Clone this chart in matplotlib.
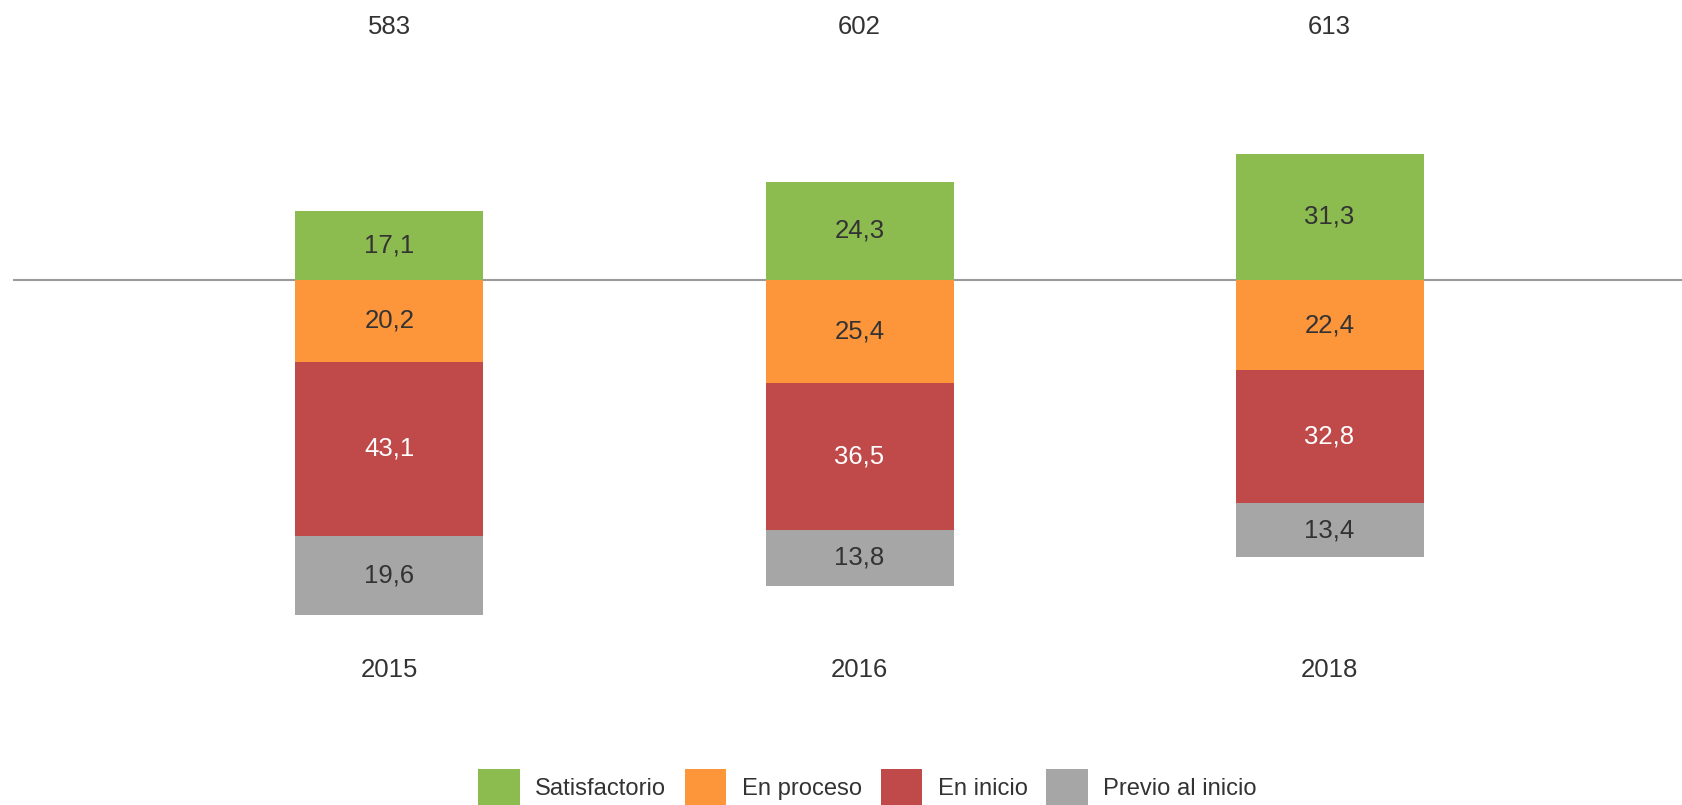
import matplotlib
matplotlib.use("Agg")
import matplotlib.pyplot as plt
from matplotlib.patches import Patch
import numpy as np

plt.rcParams['font.family'] = ['Liberation Sans', 'DejaVu Sans']

# Data
years = ["2015", "2016", "2018"]
totals = [583, 602, 613]
satisfactorio = [17.1, 24.3, 31.3]
en_proceso = [20.2, 25.4, 22.4]
en_inicio = [43.1, 36.5, 32.8]
previo = [19.6, 13.8, 13.4]

labels = ["Satisfactorio", "En proceso", "En inicio", "Previo al inicio"]
colors = ["#8CBB50", "#FD963A", "#C0494A", "#A6A6A6"]
text_colors = ["#333333", "#333333", "#FFFFFF", "#333333"]

W, H = 1682, 805
fig = plt.figure(figsize=(W / 100, H / 100), dpi=100)
ax = fig.add_axes([0, 0, 1, 1])

x = np.arange(len(years))
width = 0.4

# Satisfactory level drawn above the zero line, the rest stacked below it
ax.bar(x, satisfactorio, width=width, color=colors[0], zorder=2)
bottoms = np.zeros(len(years))
below = [en_proceso, en_inicio, previo]
for vals, col in zip(below, colors[1:]):
    v = np.array(vals)
    ax.bar(x, -v, bottom=bottoms, width=width, color=col, zorder=2)
    bottoms = bottoms - v

# Segment labels
fs = 18.5
for i in range(len(years)):
    ax.text(x[i], satisfactorio[i] / 2, f"{satisfactorio[i]:.1f}".replace(".", ","),
            ha="center", va="center", fontsize=fs, color=text_colors[0], zorder=3)
    b = 0.0
    for vals, tc in zip(below, text_colors[1:]):
        v = vals[i]
        ax.text(x[i], b - v / 2, f"{v:.1f}".replace(".", ","),
                ha="center", va="center", fontsize=fs, color=tc, zorder=3)
        b -= v

# Totals on top and years underneath
trans = matplotlib.transforms.blended_transform_factory(ax.transData, ax.transAxes)
for i in range(len(years)):
    ax.text(x[i], 1 - 27 / H, str(totals[i]), transform=trans, ha="center", va="center",
            fontsize=fs, color="#333333")
    ax.text(x[i], 1 - 670 / H, years[i], transform=trans, ha="center", va="center",
            fontsize=fs, color="#333333")

# Zero line
ax.axhline(0, xmin=14 / W, xmax=1, color="#9A9A9A", linewidth=1.5, zorder=1)

px_per_unit = 4.04
px_per_x = 470
ax.set_xlim(-389.5 / px_per_x, (W - 389.5) / px_per_x)
ax.set_ylim(-(H - 280) / px_per_unit, 280 / px_per_unit)
ax.axis("off")

handles = [Patch(facecolor=c, edgecolor="none") for c in colors]
lfs = 17.1
fig.legend(handles, labels, loc="center", ncol=4, frameon=False,
           bbox_to_anchor=(867.5 / W, 1 - 787 / H), fontsize=lfs,
           handlelength=1.75, handleheight=2.0, handletextpad=0.65,
           columnspacing=0.78, borderpad=0, labelcolor="#333333")

fig.savefig("out.png", dpi=100, facecolor="white")
